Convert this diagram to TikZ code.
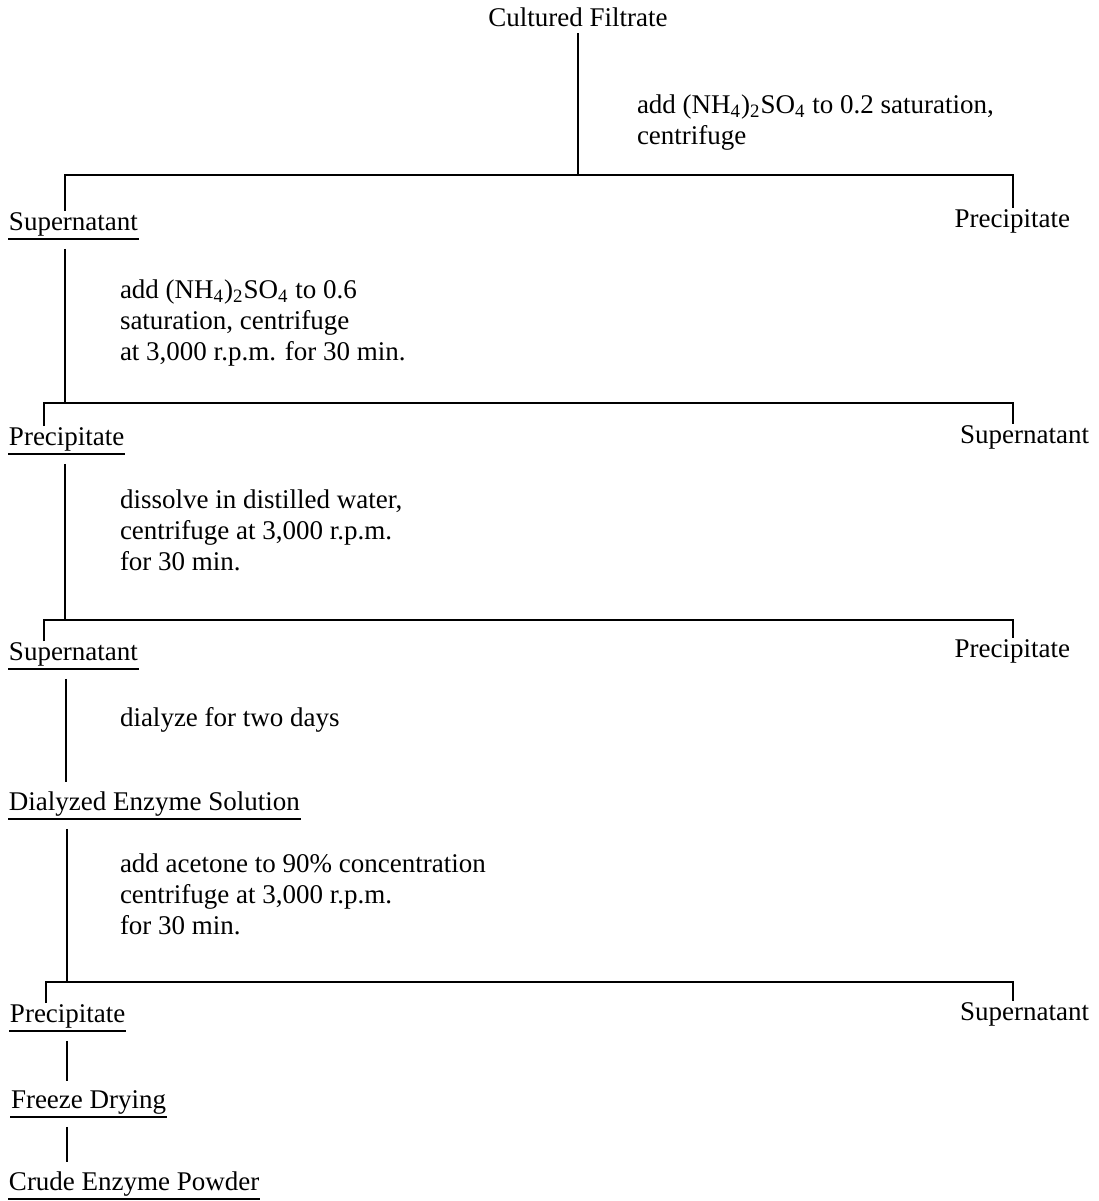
\documentclass[tikz,border=0pt]{standalone}
\usepackage{fontspec}
\setmainfont{Liberation Serif}

\begin{document}
\begin{tikzpicture}[x=0.5pt, y=-0.5pt, line width=1pt,
  every node/.style={inner sep=0pt, font=\fontsize{13.5pt}{15.5pt}\selectfont},
  stage/.style={anchor=base west},
  stageright/.style={anchor=base east},
  treat/.style={anchor=base west, align=left},
  feed/.style={shorten <=6pt, shorten >=4pt}]

  \useasboundingbox (0,0) rectangle (1099,1201);

  % -- Starting material --
  \node[anchor=base] (cf) at (578,26) {Cultured Filtrate};

  % -- First salting out --
  \node[treat] (t1) at (636,144) {add (NH\textsubscript{4})\textsubscript{2}SO\textsubscript{4} to 0.2 saturation,\\centrifuge};
  \coordinate (b1l) at (65,175);
  \coordinate (b1r) at (1013,175);
  \node[stage] (sup1) at (8,230) {Supernatant};
  \node[stageright] (pre1) at (1071,227) {Precipitate};
  \draw[shorten <=3pt] (cf.south) -- (cf.south |- b1l);
  \draw (b1l |- sup1.north) -- (b1l) -- (b1r) -- (b1r |- pre1.north);

  % -- Second salting out --
  \coordinate (j2) at (65,403);
  \coordinate (b2l) at (44,403);
  \coordinate (b2r) at (1013,403);
  \node[treat] (t2) at (119,360) {add (NH\textsubscript{4})\textsubscript{2}SO\textsubscript{4} to 0.6\\saturation, centrifuge\\at 3,000 r.p.m. for 30 min.};
  \node[stage] (pre2) at (8,445) {Precipitate};
  \node[stageright] (sup2) at (1090,443) {Supernatant};
  \draw[shorten <=6pt] (sup1.south -| j2) -- (j2);
  \draw (b2l |- pre2.north) -- (b2l) -- (b2r) -- (b2r |- sup2.north);

  % -- Redissolve --
  \coordinate (j3) at (65,620);
  \coordinate (b3l) at (44,620);
  \coordinate (b3r) at (1013,620);
  \node[treat] (t3) at (119,570) {dissolve in distilled water,\\centrifuge at 3,000 r.p.m.\\for 30 min.};
  \node[stage] (sup3) at (8,660) {Supernatant};
  \node[stageright] (pre3) at (1071,657) {Precipitate};
  \draw[shorten <=6pt] (pre2.south -| j3) -- (j3);
  \draw (b3l |- sup3.north) -- (b3l) -- (b3r) -- (b3r |- pre3.north);

  % -- Dialysis --
  \coordinate (j4) at (66,700);
  \node[treat] (t4) at (119,726) {dialyze for two days};
  \node[stage] (dia) at (8,810) {Dialyzed Enzyme Solution};
  \draw[feed] (sup3.south -| j4) -- (dia.north -| j4);

  % -- Acetone precipitation --
  \coordinate (j5) at (67,982);
  \coordinate (b5l) at (46,982);
  \coordinate (b5r) at (1013,982);
  \node[treat] (t5) at (119,934) {add acetone to 90\% concentration\\centrifuge at 3,000 r.p.m.\\for 30 min.};
  \node[stage] (pre5) at (9,1022) {Precipitate};
  \node[stageright] (sup5) at (1090,1020) {Supernatant};
  \draw[shorten <=6pt] (dia.south -| j5) -- (j5);
  \draw (b5l |- pre5.north) -- (b5l) -- (b5r) -- (b5r |- sup5.north);

  % -- Drying --
  \node[stage] (frz) at (10,1108) {Freeze Drying};
  \node[stage] (crude) at (8,1190) {Crude Enzyme Powder};
  \draw[feed] (pre5.south -| j5) -- (frz.north -| j5);
  \draw[feed] (frz.south -| j5) -- (crude.north -| j5);

  % underlines
  \foreach \n in {sup1,pre2,sup3,dia,pre5,frz,crude}
    \draw[line width=1.2pt] ([yshift=-4.5pt]\n.base west) -- ([yshift=-4.5pt]\n.base east);

\end{tikzpicture}
\end{document}
